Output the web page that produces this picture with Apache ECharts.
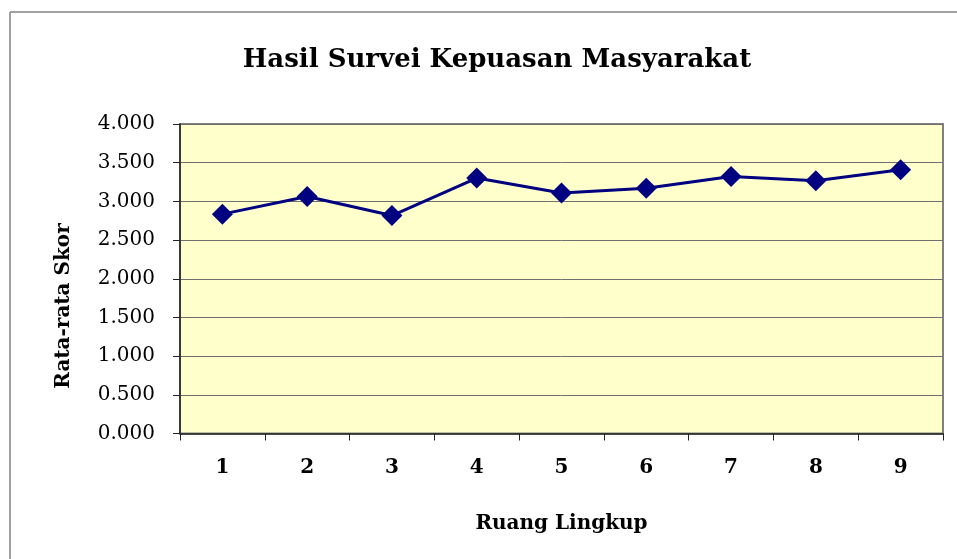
<!DOCTYPE html>
<html><head><meta charset="utf-8">
<script src="https://cdn.jsdelivr.net/npm/echarts@6/dist/echarts.min.js"></script>
<style>html,body{margin:0;padding:0;background:#fff}#c{width:957px;height:559px}</style>
</head><body><div id="c"></div>
<script>
const categories = ['1','2','3','4','5','6','7','8','9'];
const values = [2.835, 3.063, 2.817, 3.301, 3.107, 3.171, 3.322, 3.266, 3.408];
const yTicks = [0, 0.5, 1, 1.5, 2, 2.5, 3, 3.5, 4];
const titleText = 'Hasil Survei Kepuasan Masyarakat';
const xName = 'Ruang Lingkup';
const yName = 'Rata-rata Skor';

const F = '"DejaVu Serif", "Liberation Serif", serif';
const chart = echarts.init(document.getElementById('c'), null, {renderer:'canvas'});
chart.setOption({
  animation:false,
  backgroundColor:'#fff',
  title:{text:titleText,left:492,top:42,textAlign:'center',
    textStyle:{fontFamily:F,fontSize:26,fontWeight:'bold',color:'#000'}},
  graphic:[
    {type:'line',shape:{x1:10,y1:12,x2:957,y2:12},style:{stroke:'#a0a0a0',lineWidth:2}},
    {type:'line',shape:{x1:10,y1:12,x2:10,y2:559},style:{stroke:'#a0a0a0',lineWidth:2}},
    {type:'text',x:64,y:306,rotation:Math.PI/2,
      style:{text:yName,font:'bold 20px '+F,fill:'#000',align:'center',verticalAlign:'middle'}}
  ],
  grid:{left:180,right:14,top:124,bottom:125.5,show:true,backgroundColor:'#FFFFCC',borderColor:'#808080',borderWidth:2},
  xAxis:{type:'category',data:categories,boundaryGap:true,
    name:xName,nameLocation:'middle',nameGap:80,
    nameTextStyle:{fontFamily:F,fontSize:20,fontWeight:'bold',color:'#000'},
    axisLine:{lineStyle:{color:'#222',width:1.5}},
    axisTick:{show:true,length:7,lineStyle:{color:'#222'}},
    axisLabel:{fontFamily:F,fontSize:20,fontWeight:'bold',color:'#000',margin:24},
    splitLine:{show:false}},
  yAxis:{type:'value',min:0,max:4,interval:0.5,
    axisLine:{show:true,lineStyle:{color:'#222',width:1.5}},
    axisTick:{show:true,length:7,lineStyle:{color:'#222'}},
    axisLabel:{fontFamily:F,fontSize:20,color:'#000',margin:25,formatter:v=>v.toFixed(3)},
    splitLine:{show:true,lineStyle:{color:'#707070',width:1}}},
  series:[{type:'line',data:values,symbol:'diamond',symbolSize:21,
    lineStyle:{color:'#000080',width:3},itemStyle:{color:'#000080'}}]
});
</script></body></html>
